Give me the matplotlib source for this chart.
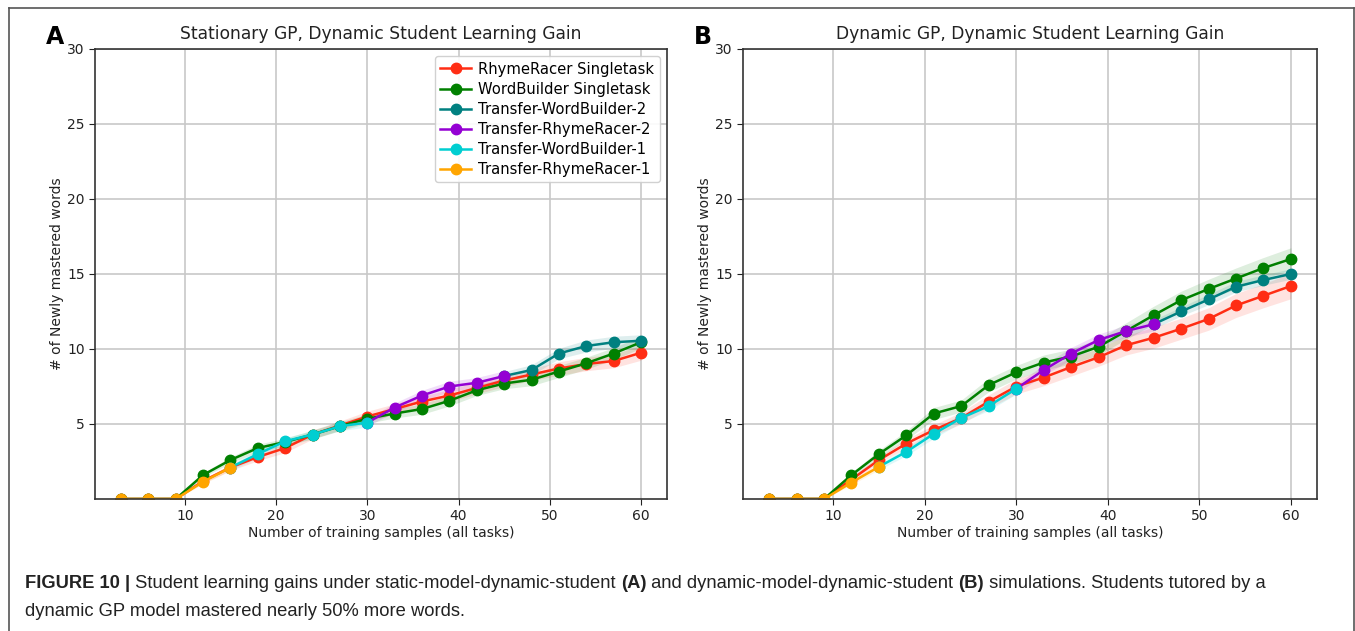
import matplotlib
matplotlib.use("Agg")
import matplotlib.pyplot as plt
from matplotlib.lines import Line2D

# --- campioni di training (tutti i task) ---
X_ALL = [3, 6, 9, 12, 15, 18, 21, 24, 27, 30, 33, 36, 39, 42, 45, 48, 51, 54, 57, 60]
X_RR1 = [3, 6, 9, 12, 15]
X_WB1 = [15, 18, 21, 24, 27, 30]
X_RR2 = [30, 33, 36, 39, 42, 45]
X_WB2 = [45, 48, 51, 54, 57, 60]

# --- pannello A: GP stazionario ---
A_RR_SINGLE = [0, 0, 0, 1.2, 2.1, 2.8, 3.4, 4.3, 4.9, 5.5, 6.0, 6.5, 6.9, 7.4, 7.9, 8.3, 8.7, 9.0, 9.2, 9.75]
A_WB_SINGLE = [0, 0, 0, 1.6, 2.6, 3.4, 3.8, 4.3, 4.85, 5.35, 5.7, 6.0, 6.55, 7.25, 7.7, 7.95, 8.5, 9.05, 9.7, 10.45]
A_WB2 = [8.2, 8.6, 9.7, 10.2, 10.45, 10.55]
A_RR2 = [5.1, 6.1, 6.9, 7.5, 7.75, 8.2]
A_WB1 = [2.1, 3.0, 3.85, 4.3, 4.85, 5.1]
A_RR1 = [0, 0, 0, 1.15, 2.1]

A_RR_SINGLE_ERR = [0, 0, 0, 0.15, 0.2, 0.25, 0.3, 0.3, 0.3, 0.35, 0.35, 0.35, 0.4, 0.4, 0.4, 0.4, 0.45, 0.45, 0.45, 0.5]
A_WB_SINGLE_ERR = [0, 0, 0, 0.15, 0.2, 0.25, 0.25, 0.3, 0.3, 0.3, 0.3, 0.35, 0.35, 0.35, 0.35, 0.4, 0.4, 0.4, 0.4, 0.4]
A_WB2_ERR = [0.3, 0.35, 0.35, 0.4, 0.4, 0.4]
A_RR2_ERR = [0.25, 0.3, 0.35, 0.35, 0.35, 0.35]
A_WB1_ERR = [0.2, 0.25, 0.25, 0.25, 0.3, 0.3]
A_RR1_ERR = [0, 0, 0, 0.15, 0.2]

# --- pannello B: GP dinamico ---
B_RR_SINGLE = [0, 0, 0, 1.3, 2.6, 3.7, 4.6, 5.4, 6.5, 7.5, 8.1, 8.8, 9.45, 10.25, 10.75, 11.35, 12.0, 12.9, 13.55, 14.2]
B_WB_SINGLE = [0, 0, 0, 1.6, 3.0, 4.25, 5.7, 6.2, 7.6, 8.45, 9.1, 9.5, 10.15, 11.2, 12.25, 13.25, 14.0, 14.7, 15.4, 16.0]
B_WB2 = [11.65, 12.5, 13.3, 14.15, 14.6, 15.0]
B_RR2 = [7.35, 8.6, 9.7, 10.6, 11.2, 11.65]
B_WB1 = [2.15, 3.15, 4.35, 5.4, 6.2, 7.35]
B_RR1 = [0, 0, 0, 1.1, 2.15]

B_RR_SINGLE_ERR = [0, 0, 0, 0.15, 0.2, 0.3, 0.35, 0.4, 0.45, 0.5, 0.55, 0.6, 0.6, 0.65, 0.7, 0.7, 0.75, 0.8, 0.8, 0.85]
B_WB_SINGLE_ERR = [0, 0, 0, 0.15, 0.25, 0.3, 0.4, 0.4, 0.45, 0.45, 0.5, 0.5, 0.55, 0.55, 0.6, 0.6, 0.65, 0.7, 0.7, 0.75]
B_WB2_ERR = [0.3, 0.3, 0.35, 0.35, 0.35, 0.35]
B_RR2_ERR = [0.3, 0.35, 0.4, 0.4, 0.4, 0.45]
B_WB1_ERR = [0.2, 0.25, 0.3, 0.3, 0.3, 0.35]
B_RR1_ERR = [0, 0, 0, 0.15, 0.2]

LABELS = ["RhymeRacer Singletask", "WordBuilder Singletask", "Transfer-WordBuilder-2",
          "Transfer-RhymeRacer-2", "Transfer-WordBuilder-1", "Transfer-RhymeRacer-1"]
COLORI = ["#ff2d14", "green", "teal", "darkviolet", "darkturquoise", "orange"]
X_SERIE = [X_ALL, X_ALL, X_WB2, X_RR2, X_WB1, X_RR1]

PANNELLI = [
    ("A", "Stationary GP, Dynamic Student Learning Gain",
     [A_RR_SINGLE, A_WB_SINGLE, A_WB2, A_RR2, A_WB1, A_RR1],
     [A_RR_SINGLE_ERR, A_WB_SINGLE_ERR, A_WB2_ERR, A_RR2_ERR, A_WB1_ERR, A_RR1_ERR],
     [95, 667], True),
    ("B", "Dynamic GP, Dynamic Student Learning Gain",
     [B_RR_SINGLE, B_WB_SINGLE, B_WB2, B_RR2, B_WB1, B_RR1],
     [B_RR_SINGLE_ERR, B_WB_SINGLE_ERR, B_WB2_ERR, B_RR2_ERR, B_WB1_ERR, B_RR1_ERR],
     [743, 1317], False),
]

W, H = 1355, 631


def testo_composto(fig, x, y, pezzi, size):
    # scrive pezzi di testo (normale/grassetto) uno dopo l'altro sulla stessa riga
    renderer = fig.canvas.get_renderer()
    for testo, peso in pezzi:
        t = fig.text(x / W, 1 - y / H, testo, fontsize=size, fontweight=peso,
                     family="Liberation Sans", va="center", ha="left", color="#222222")
        bb = t.get_window_extent(renderer=renderer)
        x += bb.width


def disegna():
    fig = plt.figure(figsize=(W / 100, H / 100), dpi=100)
    top, bottom = 49, 499

    for lettera, titolo, serie, errori, (sx, dx), legenda in PANNELLI:
        ax = fig.add_axes([sx / W, 1 - bottom / H, (dx - sx) / W, (bottom - top) / H])
        for xs, ys, es, col, lab in zip(X_SERIE, serie, errori, COLORI, LABELS):
            lo = [y - e for y, e in zip(ys, es)]
            hi = [y + e for y, e in zip(ys, es)]
            ax.fill_between(xs, lo, hi, color=col, alpha=0.13, linewidth=0)
            ax.plot(xs, ys, color=col, marker="o", markersize=7.5, linewidth=1.8, label=lab)

        ax.set_ylim(0, 30)
        ax.set_yticks([5, 10, 15, 20, 25, 30])
        ax.set_xticks([10, 20, 30, 40, 50, 60])
        ax.grid(True, color="#c8c8c8", linewidth=1.2)
        ax.set_axisbelow(True)
        ax.tick_params(labelsize=10, colors="#222222", length=4)
        for sp in ax.spines.values():
            sp.set_color("#333333")
            sp.set_linewidth(1.2)
        ax.set_title(titolo, fontsize=12.3, color="#222222", pad=7)
        ax.set_xlabel("Number of training samples (all tasks)", fontsize=10, color="#222222", labelpad=2)
        ax.set_ylabel("# of Newly mastered words", fontsize=10, color="#222222", labelpad=2)
        fig.text((sx - 40) / W, 1 - 37 / H, lettera, fontsize=17, fontweight="bold",
                 ha="center", va="center")
        if legenda:
            ax.legend(loc="upper right", fontsize=10.6, framealpha=0.9, borderaxespad=0.5,
                      labelspacing=0.35, handlelength=2.1, handletextpad=0.5, borderpad=0.35)

    # cornice esterna
    bordo = dict(color="#555555", linewidth=1.2, transform=fig.transFigure)
    fig.add_artist(Line2D([9 / W, 9 / W], [0, 1 - 8 / H], **bordo))
    fig.add_artist(Line2D([9 / W, 1354 / W], [1 - 8 / H, 1 - 8 / H], **bordo))
    fig.add_artist(Line2D([1354 / W, 1354 / W], [0, 1 - 8 / H], **bordo))

    # didascalia
    testo_composto(fig, 25, 583, [
        ("FIGURE 10 |", "bold"),
        (" Student learning gains under static-model-dynamic-student ", "normal"),
        ("(A)", "bold"),
        (" and dynamic-model-dynamic-student ", "normal"),
        ("(B)", "bold"),
        (" simulations. Students tutored by a", "normal"),
    ], 13.2)
    testo_composto(fig, 25, 611, [("dynamic GP model mastered nearly 50% more words.", "normal")], 13.2)

    fig.savefig("out.png", dpi=100)


if __name__ == "__main__":
    disegna()
